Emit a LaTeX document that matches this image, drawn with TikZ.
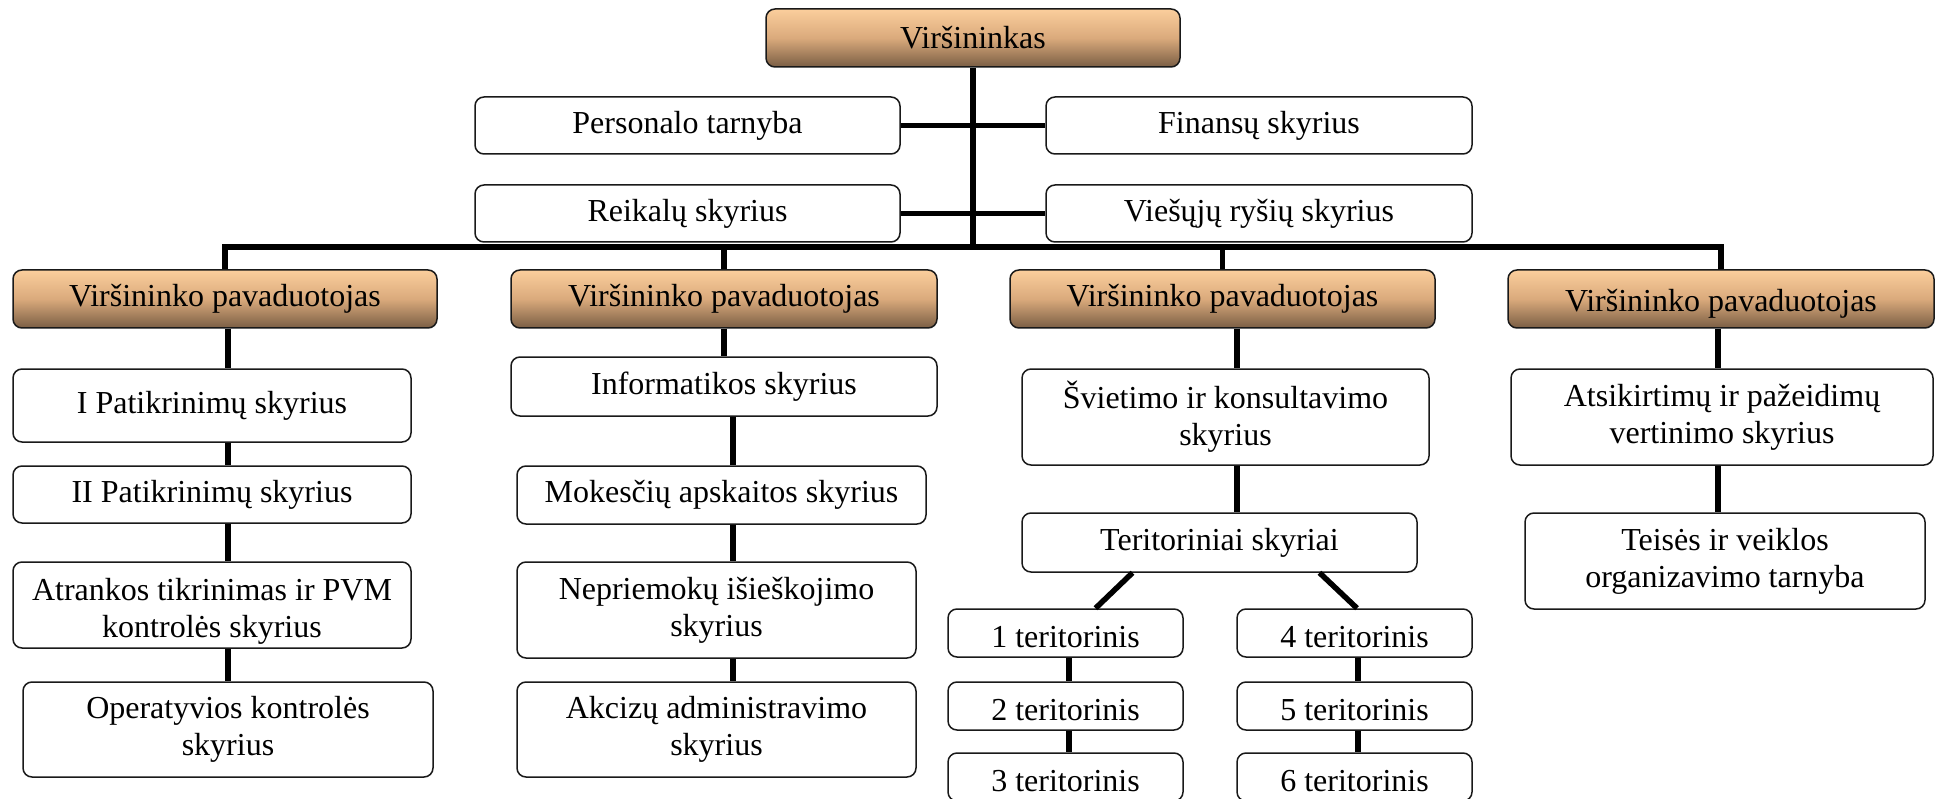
\documentclass[tikz,border=0pt]{standalone}
\usepackage{fontspec}
\setmainfont{Liberation Serif}
\definecolor{htop}{RGB}{251,206,156}
\definecolor{hmid}{RGB}{218,170,124}
\definecolor{hbot}{RGB}{122,94,68}
\definecolor{bord}{RGB}{25,25,25}
\tikzset{
  box/.style={draw=bord, line width=1.5pt, rounded corners=9pt, fill=white,
    inner sep=0pt, align=center, font=\fontsize{32}{37}\selectfont},
  head/.style={box, top color=htop, bottom color=hbot, middle color=hmid},
  terbox/.style={box, minimum width=235, minimum height=48},
  conn/.style={line width=5.5pt, line join=miter, draw=black},
}
\newcommand{\lowtext}[2]{\raisebox{-#1}[\height][\depth]{#2}}
\begin{document}
\begin{tikzpicture}[x=1pt,y=-1pt]
\path[use as bounding box, fill=white] (0,0) rectangle (1945,799);

% top level
\node[head, minimum width=414, minimum height=58] (vir) at (973,38) {Viršininkas};
\node[box, minimum width=425, minimum height=57] (pers) at (687.5,125.5) {Personalo tarnyba};
\node[box, minimum width=426, minimum height=57] (fin) at (1259,125.5) {Finansų skyrius};
\node[box, minimum width=425, minimum height=57] (reik) at (687.5,213.5) {Reikalų skyrius};
\node[box, minimum width=426, minimum height=57] (vies) at (1259,213.5) {Viešųjų ryšių skyrius};

% deputies
\node[head, minimum width=424, minimum height=58] (d1) at (225,299) {Viršininko pavaduotojas};
\node[head, minimum width=426, minimum height=58] (d2) at (724,299) {Viršininko pavaduotojas};
\node[head, minimum width=425, minimum height=58] (d3) at (1222.5,299) {Viršininko pavaduotojas};
\node[head, minimum width=426, minimum height=58] (d4) at (1721,299) {\lowtext{5pt}{Viršininko pavaduotojas}};

% column 1
\node[box, minimum width=398, minimum height=73] (p1) at (212,405.5) {I Patikrinimų skyrius};
\node[box, minimum width=398, minimum height=57] (p2) at (212,494.5) {II Patikrinimų skyrius};
\node[box, minimum width=398, minimum height=86] (atr) at (212,605) {\lowtext{7pt}{\begin{tabular}{@{}c@{}}Atrankos tikrinimas ir PVM\\kontrolės skyrius\end{tabular}}};
\node[box, minimum width=410, minimum height=95] (op) at (228,729.5) {Operatyvios kontrolės\\skyrius};

% column 2
\node[box, minimum width=426, minimum height=59] (inf) at (724,386.5) {Informatikos skyrius};
\node[box, minimum width=409, minimum height=58] (mok) at (721.5,495) {Mokesčių apskaitos skyrius};
\node[box, minimum width=399, minimum height=96] (nep) at (716.5,610) {Nepriemokų išieškojimo\\skyrius};
\node[box, minimum width=399, minimum height=95] (akc) at (716.5,729.5) {Akcizų administravimo\\skyrius};

% column 3
\node[box, minimum width=407, minimum height=96] (svi) at (1225.5,417) {Švietimo ir konsultavimo\\skyrius};
\node[box, minimum width=395, minimum height=59] (ter) at (1219.5,542.5) {Teritoriniai skyriai};
\node[terbox] (t1) at (1065.5,633) {\lowtext{4pt}{1 teritorinis}};
\node[terbox] (t2) at (1065.5,706) {\lowtext{4pt}{2 teritorinis}};
\node[terbox] (t3) at (1065.5,777) {\lowtext{4pt}{3 teritorinis}};
\node[terbox] (t4) at (1354.5,633) {\lowtext{4pt}{4 teritorinis}};
\node[terbox] (t5) at (1354.5,706) {\lowtext{4pt}{5 teritorinis}};
\node[terbox] (t6) at (1354.5,777) {\lowtext{4pt}{6 teritorinis}};

% column 4
\node[box, minimum width=422, minimum height=96] (ats) at (1722,417) {Atsikirtimų ir pažeidimų\\vertinimo skyrius};
\node[box, minimum width=400, minimum height=96] (tei) at (1725,561) {Teisės ir veiklos\\organizavimo tarnyba};

% helper coordinates
\coordinate (bar) at (0,247);
\coordinate (c1) at (228,0);
\coordinate (c2) at (733,0);
\coordinate (c3) at (1237,0);
\coordinate (c4) at (1718,0);
\coordinate (ca) at (1069,0);
\coordinate (cb) at (1358,0);

% connectors (top)
\draw[conn] (vir.south) -- (vir.south |- bar);
\draw[conn] (pers.east) -- (fin.west);
\draw[conn] (reik.east) -- (vies.west);
\draw[conn] (d1.north) |- (d4.north |- bar) -- (d4.north);
\draw[conn] (d2.north) -- (d2.north |- bar);
\draw[conn] (d3.north) -- (d3.north |- bar);

% column 1
\draw[conn] (c1 |- d1.south) -- (c1 |- p1.north);
\draw[conn] (c1 |- p1.south) -- (c1 |- p2.north);
\draw[conn] (c1 |- p2.south) -- (c1 |- atr.north);
\draw[conn] (c1 |- atr.south) -- (c1 |- op.north);

% column 2
\draw[conn] (d2.south) -- (d2.south |- inf.north);
\draw[conn] (c2 |- inf.south) -- (c2 |- mok.north);
\draw[conn] (c2 |- mok.south) -- (c2 |- nep.north);
\draw[conn] (c2 |- nep.south) -- (c2 |- akc.north);

% column 3
\draw[conn] (c3 |- d3.south) -- (c3 |- svi.north);
\draw[conn] (c3 |- svi.south) -- (c3 |- ter.north);
\draw[conn] ([xshift=-87pt]ter.south) -- ([xshift=30pt]t1.north);
\draw[conn] ([xshift=100pt]ter.south) -- ([xshift=2.5pt]t4.north);
\draw[conn] (ca |- t1.south) -- (ca |- t2.north);
\draw[conn] (ca |- t2.south) -- (ca |- t3.north);
\draw[conn] (cb |- t4.south) -- (cb |- t5.north);
\draw[conn] (cb |- t5.south) -- (cb |- t6.north);

% column 4
\draw[conn] (c4 |- d4.south) -- (c4 |- ats.north);
\draw[conn] (c4 |- ats.south) -- (c4 |- tei.north);
\end{tikzpicture}
\end{document}
